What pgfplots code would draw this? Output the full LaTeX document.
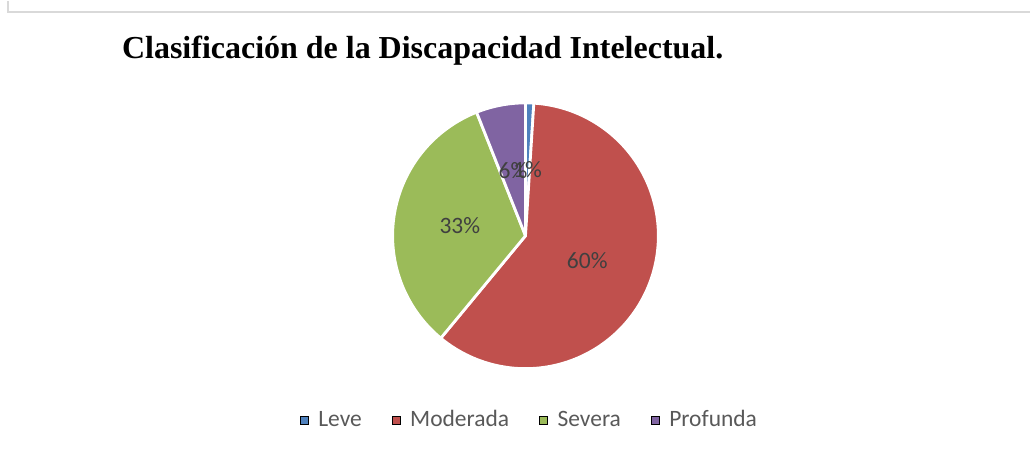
\documentclass[border=0pt]{standalone}
\usepackage{pgfplots}
\pgfplotsset{compat=1.18}
\usepackage{fontspec}
\setmainfont{Liberation Serif}
\newfontfamily\calfont{Carlito}
\definecolor{cLeve}{HTML}{4F81BD}
\definecolor{cModerada}{HTML}{C0504D}
\definecolor{cSevera}{HTML}{9BBB59}
\definecolor{cProfunda}{HTML}{8064A2}
\definecolor{labgray}{HTML}{404040}
\definecolor{leggray}{HTML}{595959}
\definecolor{framegray}{HTML}{D9D9D9}
% data (percent)
\def\vA{1}   % Leve
\def\vB{60}  % Moderada
\def\vC{33}  % Severa
\def\vD{6}   % Profunda
% pie geometry (pt)
\def\cx{526}
\def\cy{217}
\def\rr{133}
\begin{document}
\begin{tikzpicture}
\pgfmathsetmacro\aA{90}
\pgfmathsetmacro\aB{\aA-3.6*\vA}
\pgfmathsetmacro\aC{\aB-3.6*\vB}
\pgfmathsetmacro\aD{\aC-3.6*\vC}
\pgfmathsetmacro\aE{\aD-3.6*\vD}
\begin{axis}[
  width=1031pt, height=452pt, scale only axis,
  xmin=0, xmax=1031, ymin=0, ymax=452,
  hide axis, clip=false,
  legend columns=4,
  legend image code/.code={\fill[#1] (0pt,-4pt) rectangle (8pt,4pt);},
  legend style={at={(axis cs:529,32)}, anchor=center, draw=none, fill=none,
    font=\calfont\fontsize{23.5}{28}\selectfont, text=leggray,
    /tikz/every even column/.append style={column sep=30pt},
    nodes={inner sep=0pt, outer sep=0pt, text height=11pt, text depth=0pt},
    /tikz/every odd column/.append style={column sep=10pt}},
]
\path (axis cs:0,0) rectangle (axis cs:1031,452);
% frame
\draw[framegray, line width=2pt] (axis cs:8,452) -- (axis cs:8,441) -- (axis cs:1031,441);
% slices
\addplot[forget plot, fill=cLeve, draw=white, line width=2.8pt, line join=round, domain=\aB:\aA, samples=10]
  ({\cx+\rr*cos(x)},{\cy+\rr*sin(x)}) -- (axis cs:\cx,\cy) -- cycle;
\addplot[forget plot, fill=cModerada, draw=white, line width=2.8pt, line join=round, domain=\aC:\aB, samples=120]
  ({\cx+\rr*cos(x)},{\cy+\rr*sin(x)}) -- (axis cs:\cx,\cy) -- cycle;
\addplot[forget plot, fill=cSevera, draw=white, line width=2.8pt, line join=round, domain=\aD:\aC, samples=80]
  ({\cx+\rr*cos(x)},{\cy+\rr*sin(x)}) -- (axis cs:\cx,\cy) -- cycle;
\addplot[forget plot, fill=cProfunda, draw=white, line width=2.8pt, line join=round, domain=\aE:\aD, samples=20]
  ({\cx+\rr*cos(x)},{\cy+\rr*sin(x)}) -- (axis cs:\cx,\cy) -- cycle;
% labels
\pgfmathsetmacro\mA{(\aA+\aB)/2}
\pgfmathsetmacro\mB{(\aB+\aC)/2}
\pgfmathsetmacro\mC{(\aC+\aD)/2}
\pgfmathsetmacro\mD{(\aD+\aE)/2}
\begin{scope}[every node/.style={font=\calfont\fontsize{23.5}{28}\selectfont, text=labgray, inner sep=0pt}]
\node at (axis cs:{\cx+0.5*\rr*cos(\mD)},{\cy+0.5*\rr*sin(\mD)}) {\vD\%};
\node at (axis cs:{\cx+0.5*\rr*cos(\mA)},{\cy+0.5*\rr*sin(\mA)}) {\vA\%};
\node at (axis cs:{\cx+0.5*\rr*cos(\mB)},{\cy+0.5*\rr*sin(\mB)}) {\vB\%};
\node at (axis cs:{\cx+0.5*\rr*cos(\mC)},{\cy+0.5*\rr*sin(\mC)}) {\vC\%};
\end{scope}
% title
\node[anchor=base west, inner sep=0pt, font=\fontsize{32}{38}\selectfont\bfseries] at (axis cs:122,394) {Clasificación de la Discapacidad Intelectual.};
% legend
\addlegendimage{fill=cLeve}
\addlegendentry{Leve}
\addlegendimage{fill=cModerada}
\addlegendentry{Moderada}
\addlegendimage{fill=cSevera}
\addlegendentry{Severa}
\addlegendimage{fill=cProfunda}
\addlegendentry{Profunda}
\end{axis}
\end{tikzpicture}
\end{document}
